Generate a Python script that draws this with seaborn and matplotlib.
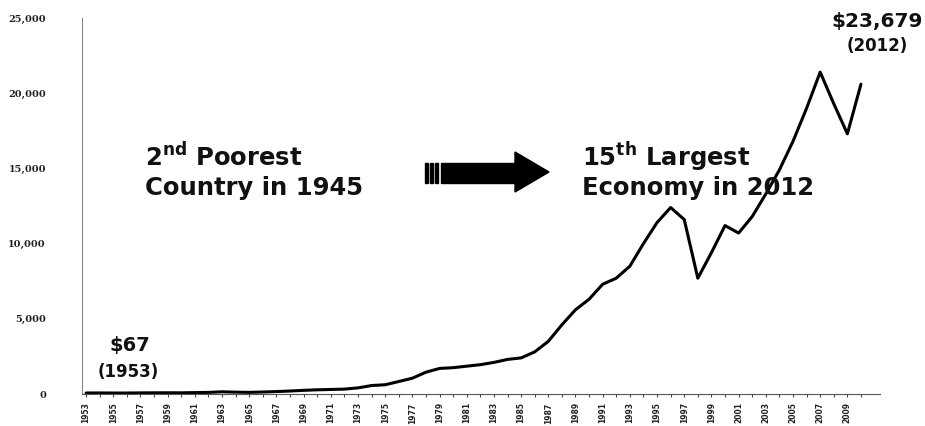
import matplotlib
matplotlib.use("Agg")
import matplotlib.pyplot as plt
import seaborn as sns
import pandas as pd
from matplotlib.patches import Polygon, Rectangle

years = list(range(1953, 2011))
gdp_per_capita = [67, 70, 65, 66, 74, 80, 81, 79, 93, 106,
                  146, 123, 109, 133, 161, 198, 243, 279, 301, 324,
                  407, 563, 615, 830, 1050, 1450, 1700, 1750, 1850, 1950,
                  2100, 2300, 2400, 2800, 3500, 4600, 5600, 6300, 7300, 7700,
                  8500, 10000, 11400, 12400, 11600, 7700, 9400, 11200, 10700, 11800,
                  13300, 14900, 16800, 19000, 21400, 19300, 17300, 20600]
tick_years = list(range(1953, 2010, 2))
y_ticks = [0, 5000, 10000, 15000, 20000, 25000]
y_tick_labels = ["0", "5,000", "10,000", "15,000", "20,000", "25,000"]

df = pd.DataFrame({"year": years, "gdp": gdp_per_capita})

sns.set_theme(style="white")
plt.rcParams["font.family"] = ["DejaVu Sans"]
plt.rcParams["mathtext.fontset"] = "dejavusans"

fig = plt.figure(figsize=(9.25, 4.26), dpi=100)
W, H = 925, 426
ax = fig.add_axes([82 / W, 32 / H, (880 - 82) / W, (394 - 18) / H])

sns.lineplot(data=df, x="year", y="gdp", ax=ax, color="black", linewidth=2.2)

ax.set_xlim(1952.7, 2011.4)
ax.set_ylim(0, 25000)
ax.set_xlabel("")
ax.set_ylabel("")

ax.set_xticks(tick_years)
ax.set_xticklabels([str(y) for y in tick_years], rotation=90,
                   fontsize=5.5, fontweight="bold", color="#222222")
ax.set_xticks(years, minor=True)
ax.tick_params(axis="x", which="major", length=2, width=0.8, color="#444444", pad=4,
               direction="out", bottom=True)
ax.tick_params(axis="x", which="minor", length=2, width=0.8, color="#444444",
               direction="out", bottom=True)

ax.set_yticks(y_ticks)
ax.set_yticklabels(y_tick_labels, fontsize=7, fontweight="bold", color="#222222",
                   family="DejaVu Serif")
ax.tick_params(axis="y", length=0, pad=26)

for side in ["top", "right"]:
    ax.spines[side].set_visible(False)
ax.spines["left"].set_linestyle((0, (1, 1)))
ax.spines["left"].set_color("#888888")
ax.spines["left"].set_linewidth(0.8)
ax.spines["bottom"].set_color("#555555")
ax.spines["bottom"].set_linewidth(0.8)
ax.grid(False)

# value annotations
fig.text(130 / W, 1 - 346 / H, "$67", ha="center", va="center",
         fontsize=14, fontweight="bold", color="#111111")
fig.text(128 / W, 1 - 372 / H, "(1953)", ha="center", va="center",
         fontsize=12, fontweight="bold", color="#111111")
fig.text(877 / W, 1 - 22 / H, "$23,679", ha="center", va="center",
         fontsize=14.5, fontweight="bold", color="#111111")
fig.text(877 / W, 1 - 46 / H, "(2012)", ha="center", va="center",
         fontsize=12, fontweight="bold", color="#111111")

# headline texts
head = dict(ha="left", va="center", fontsize=17.5, fontweight="bold",
            color="#111111")
fig.text(145 / W, 1 - 157 / H, r"2$^{\mathbf{nd}}$ Poorest", **head)
fig.text(145 / W, 1 - 188 / H, "Country in 1945", **head)
fig.text(582 / W, 1 - 157 / H, r"15$^{\mathbf{th}}$ Largest", **head)
fig.text(582 / W, 1 - 188 / H, "Economy in 2012", **head)

# arrow with bars
def fx(px):
    return px / W

def fy(py):
    return 1 - py / H

for bx in [425, 430, 435]:
    fig.patches.append(Rectangle((fx(bx), fy(183)), 3 / W, 20 / H,
                                 transform=fig.transFigure, color="black"))
fig.patches.append(Rectangle((fx(441), fy(183)), (517 - 441) / W, 20 / H,
                             transform=fig.transFigure, color="black"))
fig.patches.append(Polygon([(fx(515), fy(152)), (fx(549), fy(172)), (fx(515), fy(192))],
                           closed=True, transform=fig.transFigure, color="black"))

fig.savefig("out.png", dpi=100, facecolor="white")
